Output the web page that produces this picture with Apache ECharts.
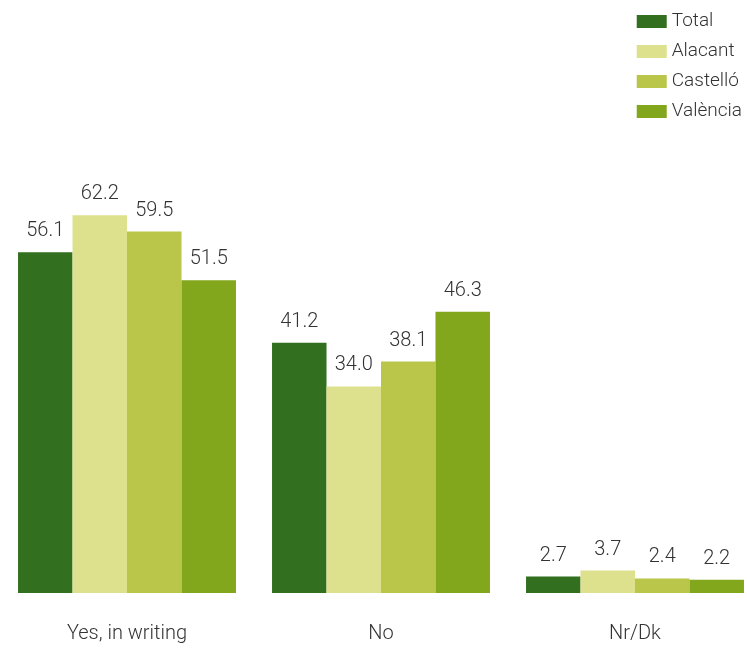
<!DOCTYPE html>
<html>
<head>
<meta charset="utf-8">
<script src="https://cdn.jsdelivr.net/npm/echarts@6/dist/echarts.min.js"></script>
<style>
html,body{margin:0;padding:0;background:#fff;}
#chart{width:747px;height:650px;}
</style>
</head>
<body>
<div id="chart"></div>
<script>
var categories = ['Yes, in writing', 'No', 'Nr/Dk'];
var seriesNames = ['Total', 'Alacant', 'Castelló', 'València'];
var total = [56.1, 41.2, 2.7];
var alacant = [62.2, 34.0, 3.7];
var castello = [59.5, 38.1, 2.4];
var valencia = [51.5, 46.3, 2.2];
var colors = ['#326f1e', '#dde08c', '#b9c64a', '#82a61c'];

var values = [total, alacant, castello, valencia];
var font = 'Roboto';
var chart = echarts.init(document.getElementById('chart'), null, {renderer: 'canvas'});
chart.setOption({
  animation: false,
  textStyle: {fontFamily: font},
  legend: {
    orient: 'vertical',
    right: 0,
    top: 7,
    itemWidth: 30,
    itemHeight: 13,
    itemGap: 11,
    icon: 'rect',
    textStyle: {fontFamily: font, fontSize: 19, fontWeight: 300, color: '#333'},
    data: seriesNames
  },
  grid: {left: 0, width: 762, top: 107, bottom: 57, outerBoundsMode: 'none', containLabel: false},
  xAxis: {
    type: 'category',
    data: categories,
    axisLine: {show: false},
    axisTick: {show: false},
    axisLabel: {fontFamily: font, fontSize: 20, fontWeight: 300, color: '#333', margin: 31}
  },
  yAxis: {
    type: 'value',
    min: 0, max: 80,
    show: false,
    splitLine: {show: false}
  },
  series: seriesNames.map(function (n, i) {
    return {
      name: n,
      type: 'bar',
      data: values[i],
      barGap: '0%',
      barCategoryGap: '14.2%',
      itemStyle: {color: colors[i]},
      label: {
        show: true,
        position: 'top',
        distance: 11,
        fontFamily: font,
        fontSize: 20,
        fontWeight: 300,
        color: '#333',
        formatter: function (p) { return p.value.toFixed(1); }
      }
    };
  })
});
</script>
</body>
</html>
